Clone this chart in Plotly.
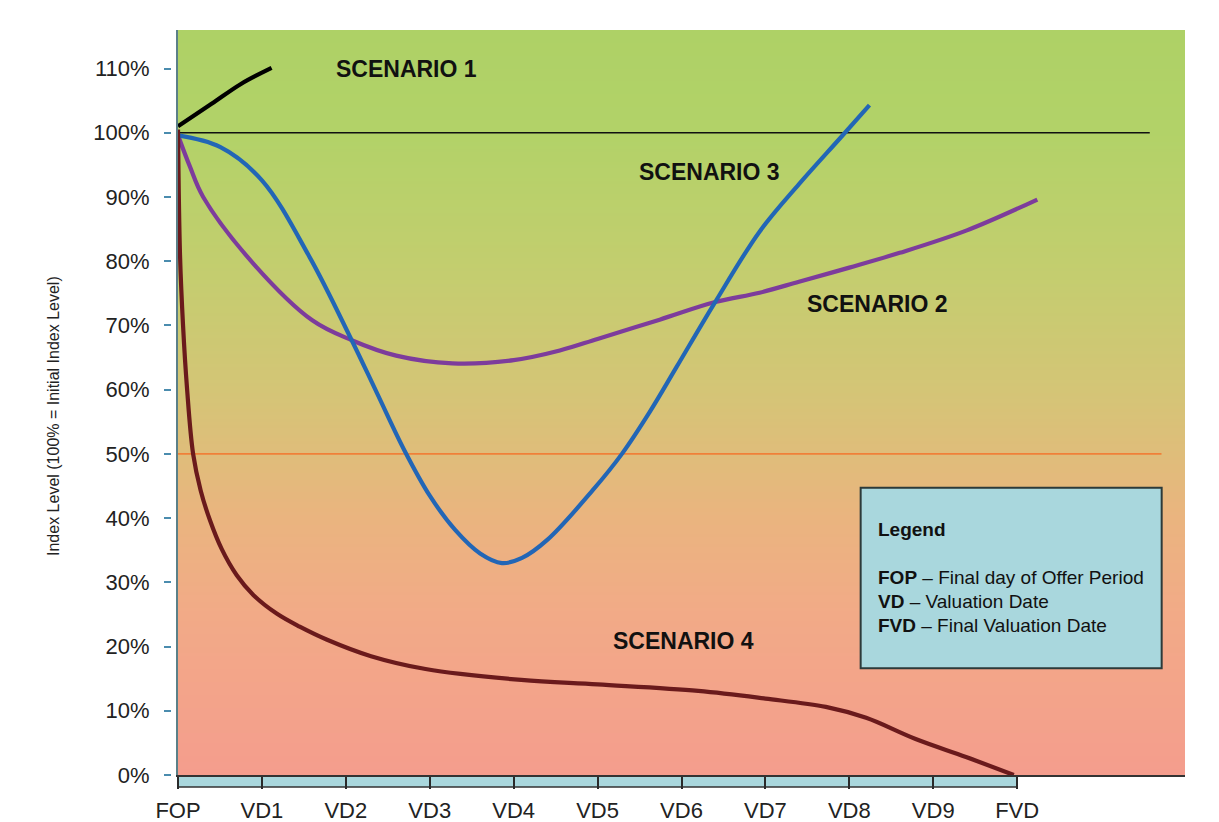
import numpy as np
import plotly.graph_objects as go

# ---------------- data ----------------
x_tick_vals = list(range(11))
x_tick_text = ["FOP", "VD1", "VD2", "VD3", "VD4", "VD5", "VD6", "VD7", "VD8", "VD9", "FVD"]
y_tick_vals = list(range(0, 111, 10))
y_tick_text = ["%d%%" % v for v in y_tick_vals]

s1_x = [0, 0.4, 0.75, 1.115]
s1_y = [101, 104.5, 107.6, 110.1]

s2_x = [0, 0.14, 0.3, 0.9, 1.6, 2.07, 2.6, 3.27, 4.0, 4.55, 5.0, 5.74, 6.39, 6.93, 7.4, 8.0, 8.6, 9.4, 10.24]
s2_y = [99.6, 94.8, 90, 79.6, 70.8, 67.7, 65.3, 64.1, 64.6, 66.1, 67.9, 70.9, 73.6, 75.1, 76.8, 79.0, 81.3, 84.8, 89.6]

s3_x = [0, 0.5, 1.0, 1.57, 2.07, 2.37, 2.7, 3.0, 3.3, 3.6, 3.86, 4.1, 4.4, 4.94, 5.29, 5.62, 5.94, 6.39, 6.93, 7.4, 7.9, 8.24]
s3_y = [99.6, 97.8, 92.6, 80.6, 67.7, 59.5, 50.5, 43.5, 38.2, 34.5, 33.0, 33.8, 36.6, 44.3, 50, 56.5, 63.5, 73.4, 84.6, 92.0, 99.3, 104.3]

s4_x = [0, 0.024, 0.06, 0.107, 0.18, 0.27, 0.38, 0.52, 0.7, 0.9, 1.18, 1.45, 1.77, 2.3, 2.95, 4.09, 5.0, 6.2, 7.0, 7.72, 8.2, 8.79, 9.39, 9.96]
s4_y = [100.5, 81, 70, 60.3, 50, 44.3, 39.7, 35.2, 31.1, 28.0, 25.1, 23.1, 21.1, 18.5, 16.5, 14.8, 14.1, 13.1, 11.9, 10.6, 8.9, 5.6, 2.8, 0]

ref_levels = [100, 50]
ref_ends = [11.58, 11.72]

scenario_names = ["SCENARIO 1", "SCENARIO 2", "SCENARIO 3", "SCENARIO 4"]
scenario_label_x = [2.72, 8.33, 6.33, 6.02]
scenario_label_y = [110.0, 73.3, 93.9, 20.8]

legend_lines = ["<b>FOP</b> \u2013 Final day of Offer Period",
                "<b>VD</b> \u2013 Valuation Date",
                "<b>FVD</b> \u2013 Final Valuation Date"]

# background gradient stops (level %, colour)
bg_levels = [0, 25, 40, 50, 60, 80, 100, 116]
bg_colors = ["#f49d8d", "#f2aa87", "#eab47f", "#dfbd7a", "#d4c576", "#c2ce6e", "#b2d268", "#aed166"]

FONT = "Liberation Sans, Arial, sans-serif"
X_MAX, Y_MAX = 12, 116

FIG_W, FIG_H = 1219, 840
L, R, T = 171, 34, 30
B = FIG_H - 775
PW = FIG_W - L - R
PH = FIG_H - T - B

fig = go.Figure()

# gradient background
edges = np.arange(0, Y_MAX + 0.001, 0.5)
centers = (edges[:-1] + edges[1:]) / 2
colorscale = [[lv / Y_MAX, c] for lv, c in zip(bg_levels, bg_colors)]
fig.add_trace(go.Heatmap(
    x=[0, X_MAX], y=edges, z=[[v] for v in centers],
    colorscale=colorscale, zmin=0, zmax=Y_MAX, showscale=False,
    hoverinfo="skip"))

# reference lines
ref_colors = ["#111111", "#f08038"]
ref_widths = [1.4, 1.6]
for lv, xe, c, w in zip(ref_levels, ref_ends, ref_colors, ref_widths):
    fig.add_trace(go.Scatter(x=[0, xe], y=[lv, lv], mode="lines",
                             line=dict(color=c, width=w), hoverinfo="skip", showlegend=False))

# scenario curves
curves = [(s2_x, s2_y, "#7d3c9c"), (s3_x, s3_y, "#2266b6"),
          (s4_x, s4_y, "#6a1a1c"), (s1_x, s1_y, "#000000")]
for xs, ys, c in curves:
    fig.add_trace(go.Scatter(x=xs, y=ys, mode="lines",
                             line=dict(color=c, width=4.2, shape="spline", smoothing=1.0),
                             showlegend=False))

# invisible trace that carries the tick-label axis
fig.add_trace(go.Scatter(x=[0], y=[0], yaxis="y2", mode="markers",
                         marker=dict(opacity=0), hoverinfo="skip", showlegend=False))

# scenario labels
for name, lx, ly in zip(scenario_names, scenario_label_x, scenario_label_y):
    fig.add_annotation(x=lx, y=ly, text="<b>%s</b>" % name, showarrow=False,
                       xanchor="center", yanchor="middle",
                       font=dict(family=FONT, size=23, color="#111111"))

# legend box
fig.add_shape(type="rect", xref="x", yref="y", x0=8.135, x1=11.722, y0=16.61, y1=44.74,
              fillcolor="#a9d7dd", line=dict(color="#2c3a3a", width=2), layer="above")
fig.add_annotation(x=8.314, y=38.15, text="<b>Legend</b>", showarrow=False,
                   xanchor="left", yanchor="middle",
                   font=dict(family=FONT, size=19, color="#111111"))
for i, t in enumerate(legend_lines):
    fig.add_annotation(x=8.314, y=30.83 - i * 3.74, text=t, showarrow=False,
                       xanchor="left", yanchor="middle",
                       font=dict(family=FONT, size=19, color="#111111"))

# blue strip under the plot area
fig.add_shape(type="rect", xref="x", yref="paper", x0=0, x1=10, y0=-12 / PH, y1=0,
              fillcolor="#a9d7dd", line=dict(color="#333333", width=1.5), layer="below")

# y-axis title
fig.add_annotation(xref="paper", yref="paper", x=(53 - L) / PW, y=(775 - 416) / PH,
                   text="Index Level (100% = Initial Index Level)", textangle=-90,
                   showarrow=False, xanchor="center", yanchor="middle",
                   font=dict(family=FONT, size=16, color="#222222"))

fig.update_layout(
    width=FIG_W, height=FIG_H, autosize=False,
    margin=dict(l=L, r=R, t=T, b=B),
    paper_bgcolor="white", plot_bgcolor="white",
    showlegend=False,
    font=dict(family=FONT, color="#222222"),
    xaxis=dict(domain=[7 / PW, 1], range=[0, X_MAX], tickvals=x_tick_vals, ticktext=x_tick_text,
               ticks="outside", ticklen=12, tickwidth=2, tickcolor="#2a2a2a",
               showgrid=False, zeroline=False, showline=True, linecolor="#333333",
               linewidth=2, tickfont=dict(family=FONT, size=22, color="#222222"),
               ticklabelstandoff=3),
    yaxis=dict(range=[0, Y_MAX], showticklabels=False, ticks="",
               showgrid=False, zeroline=False, showline=True,
               linecolor="#5b8088", linewidth=1.5),
    yaxis2=dict(overlaying="y", anchor="free", position=0, side="left",
                range=[0, Y_MAX], tickvals=y_tick_vals, ticktext=y_tick_text,
                ticks="outside", ticklen=7, tickwidth=2, tickcolor="#4a8cae",
                showgrid=False, zeroline=False, showline=False,
                tickfont=dict(family=FONT, size=22, color="#222222"),
                ticklabelstandoff=10),
)

fig.write_html("out.html", config={"displayModeBar": False},
               post_script="document.body.style.margin='0px';document.body.style.overflow='hidden';")
